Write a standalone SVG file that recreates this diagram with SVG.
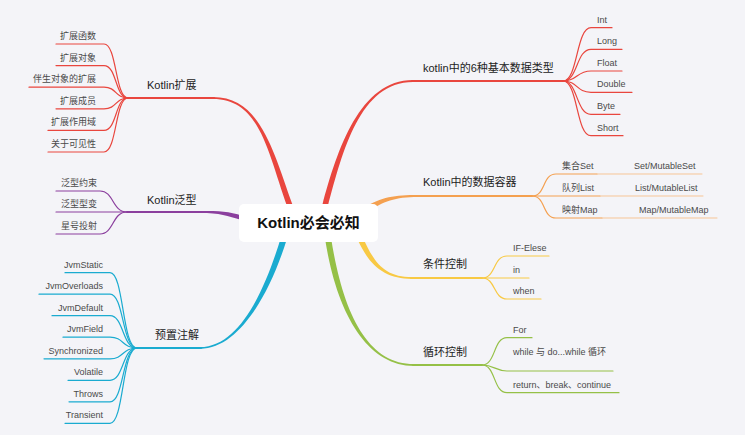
<svg xmlns="http://www.w3.org/2000/svg" width="745" height="435" viewBox="0 0 745 435">
<style>
.sub{font-family:"Liberation Sans","Noto Sans CJK SC",sans-serif;font-size:11px;fill:#222}
.leaf{font-family:"Liberation Sans","Noto Sans CJK SC",sans-serif;font-size:9px;fill:#4a4a4a}
.end{text-anchor:end}
.ln{fill:none;stroke-linecap:round}
.red{stroke:#e9463e}
.pur{stroke:#8b3f9e}
.cya{stroke:#1aabd0}
.ora{stroke:#f4a050}
.ora2{stroke:#f7c596}
.yel{stroke:#f8c944}
.gre{stroke:#95c047}
.trunk{stroke-width:1.8}
.lf{stroke-width:1.2}
</style>
<rect width="745" height="435" fill="#f4f4f8"/>
<g id="connectors">
  <!-- trunks -->
  <path fill="#e9463e" d="M292.6,205.1 C272.6,149.1 260,97.1 213,97.1 L213,98.9 C260,98.9 267.4,150.9 287.4,206.9 Z"/>
  <path class="ln red trunk" d="M214,98 L128,98"/>
  <path fill="#e9463e" d="M327.7,206.7 C342.7,150.7 360,81.9 413,81.9 L413,80.1 C360,80.1 337.3,149.3 322.3,205.3 Z"/>
  <path class="ln red trunk" d="M412,81 L563,81"/>
  <path fill="#8b3f9e" d="M242.6,215.9 C228.6,211.4 220,211.1 200,211.1 L200,212.9 C220,212.9 227.4,215.6 241.4,220.1 Z"/>
  <path class="ln pur trunk" d="M201,212 L127,212"/>
  <path fill="#f4a050" d="M367.4,212.1 C383.4,201.1 395,196.9 418,196.9 L418,195.1 C395,195.1 380.6,196.9 364.6,207.9 Z"/>
  <path class="ln ora trunk" d="M417,196 L532,196"/>
  <path fill="#f8c944" d="M357.4,239.1 C369.4,266.1 385,278.9 412,278.9 L412,277.1 C385,277.1 374.6,263.9 362.6,236.9 Z"/>
  <path class="ln yel trunk" d="M411,278 L482,278"/>
  <path fill="#95c047" d="M325,238.5 C337,315.5 368,365.9 414,365.9 L414,364.1 C368,364.1 343,314.5 331,237.5 Z"/>
  <path class="ln gre trunk" d="M413,365 L482,365"/>
  <path fill="#1aabd0" d="M281.1,237.1 C265.1,289.1 240,347.1 200,347.1 L200,348.9 C240,348.9 270.9,290.9 286.9,238.9 Z"/>
  <path class="ln cya trunk" d="M201,348 L137,348"/>
  <!-- red left leaves -->
  <g class="ln red lf">
    <path d="M56,44 L104,44 C117,44 115,98 128,98"/>
    <path d="M56,65.6 L104,65.6 C117,65.6 115,98 128,98"/>
    <path d="M29,87.2 L104,87.2 C117,87.2 115,98 128,98"/>
    <path d="M56,108.8 L104,108.8 C117,108.8 115,98 128,98"/>
    <path d="M48,130.4 L104,130.4 C117,130.4 115,98 128,98"/>
    <path d="M48,152 L104,152 C117,152 115,98 128,98"/>
  </g>
  <!-- purple leaves -->
  <g class="ln pur lf">
    <path d="M56,191 L100,191 C114,191 112,212 127,212"/>
    <path d="M56,212 L127,212"/>
    <path d="M56,234 L100,234 C114,234 112,212 127,212"/>
  </g>
  <!-- cyan leaves -->
  <g class="ln cya lf">
    <path d="M65,272.7 L110,272.7 C124,272.7 122,348 137,348"/>
    <path d="M39,294.2 L110,294.2 C124,294.2 122,348 137,348"/>
    <path d="M52,315.7 L110,315.7 C124,315.7 122,348 137,348"/>
    <path d="M63,337.2 L110,337.2 C124,337.2 122,348 137,348"/>
    <path d="M44,358.8 L110,358.8 C124,358.8 122,348 137,348"/>
    <path d="M68,380.3 L110,380.3 C124,380.3 122,348 137,348"/>
    <path d="M69,401.8 L110,401.8 C124,401.8 122,348 137,348"/>
    <path d="M65,423.3 L110,423.3 C124,423.3 122,348 137,348"/>
  </g>
  <!-- red right leaves -->
  <g class="ln red lf">
    <path d="M563,81 C578,81 576,27.7 591,27.7 L612,27.7"/>
    <path d="M563,81 C578,81 576,49.3 591,49.3 L622,49.3"/>
    <path d="M563,81 C578,81 576,71 591,71 L622,71"/>
    <path d="M563,81 C578,81 576,92.3 591,92.3 L632,92.3"/>
    <path d="M563,81 C578,81 576,114.3 591,114.3 L620,114.3"/>
    <path d="M563,81 C578,81 576,135.7 591,135.7 L623,135.7"/>
  </g>
  <!-- orange leaves -->
  <g class="ln ora lf">
    <path d="M532,196 C546,196 542,174 556,174 L597,174"/>
    <path d="M532,196 L600,196"/>
    <path d="M532,196 C546,196 542,218 556,218 L602,218"/>
  </g>
  <g class="ln ora2" stroke-width="1">
    <path d="M597,174 L702,174"/>
    <path d="M600,196 L703,196"/>
    <path d="M602,218 L717,218"/>
  </g>
  <!-- yellow leaves -->
  <g class="ln yel lf">
    <path d="M482,278 C496,278 493,256 507,256 L549,256"/>
    <path d="M482,278 L529,278"/>
    <path d="M482,278 C496,278 493,299 507,299 L541,299"/>
  </g>
  <!-- green leaves -->
  <g class="ln gre lf">
    <path d="M482,365 C496,365 493,337.7 507,337.7 L532,337.7"/>
    <path d="M482,365 C494,365 496,371 507,371 L613,371"/>
    <path d="M482,365 C496,365 493,392.7 507,392.7 L619,392.7"/>
  </g>
</g>
<g id="center">
  <rect x="239" y="204" width="139" height="38" rx="5" fill="#ffffff"/>
  <text x="308.5" y="228" text-anchor="middle" font-family="Liberation Sans, Noto Sans CJK SC, sans-serif" font-size="15" font-weight="bold" fill="#111">Kotlin必会必知</text>
</g>
<g id="kotlin-ext">
  <text class="sub" x="147" y="89">Kotlin扩展</text>
  <text class="leaf end" x="96" y="39">扩展函数</text>
  <text class="leaf end" x="96" y="60.6">扩展对象</text>
  <text class="leaf end" x="96" y="82.2">伴生对象的扩展</text>
  <text class="leaf end" x="96" y="103.8">扩展成员</text>
  <text class="leaf end" x="96" y="125.4">扩展作用域</text>
  <text class="leaf end" x="96" y="147">关于可见性</text>
</g>
<g id="kotlin-generic">
  <text class="sub" x="147" y="203.5">Kotlin泛型</text>
  <text class="leaf end" x="97" y="186">泛型约束</text>
  <text class="leaf end" x="97" y="207">泛型型变</text>
  <text class="leaf end" x="97" y="229">星号投射</text>
</g>
<g id="annotations">
  <text class="sub" x="155" y="339">预置注解</text>
  <text class="leaf end" x="103" y="267.7">JvmStatic</text>
  <text class="leaf end" x="103" y="289.2">JvmOverloads</text>
  <text class="leaf end" x="103" y="310.7">JvmDefault</text>
  <text class="leaf end" x="103" y="332.2">JvmField</text>
  <text class="leaf end" x="103" y="353.8">Synchronized</text>
  <text class="leaf end" x="103" y="375.3">Volatile</text>
  <text class="leaf end" x="103" y="396.8">Throws</text>
  <text class="leaf end" x="103" y="418.3">Transient</text>
</g>
<g id="basic-types">
  <text class="sub" x="423" y="72">kotlin中的6种基本数据类型</text>
  <text class="leaf" x="597" y="22.7">Int</text>
  <text class="leaf" x="597" y="44.3">Long</text>
  <text class="leaf" x="597" y="66">Float</text>
  <text class="leaf" x="597" y="87.3">Double</text>
  <text class="leaf" x="597" y="109.3">Byte</text>
  <text class="leaf" x="597" y="130.7">Short</text>
</g>
<g id="containers">
  <text class="sub" x="423" y="186">Kotlin中的数据容器</text>
  <text class="leaf" x="562" y="169">集合Set</text>
  <text class="leaf" x="634" y="169">Set/MutableSet</text>
  <text class="leaf" x="562" y="191">队列List</text>
  <text class="leaf" x="635" y="191">List/MutableList</text>
  <text class="leaf" x="562" y="213">映射Map</text>
  <text class="leaf" x="639" y="213">Map/MutableMap</text>
</g>
<g id="conditions">
  <text class="sub" x="423" y="268">条件控制</text>
  <text class="leaf" x="513" y="251">IF-Elese</text>
  <text class="leaf" x="513" y="272.7">in</text>
  <text class="leaf" x="513" y="294">when</text>
</g>
<g id="loops">
  <text class="sub" x="423" y="355.5">循环控制</text>
  <text class="leaf" x="513" y="333">For</text>
  <text class="leaf" x="513" y="355">while 与 do...while 循环</text>
  <text class="leaf" x="513" y="388">return、break、continue</text>
</g>
</svg>
